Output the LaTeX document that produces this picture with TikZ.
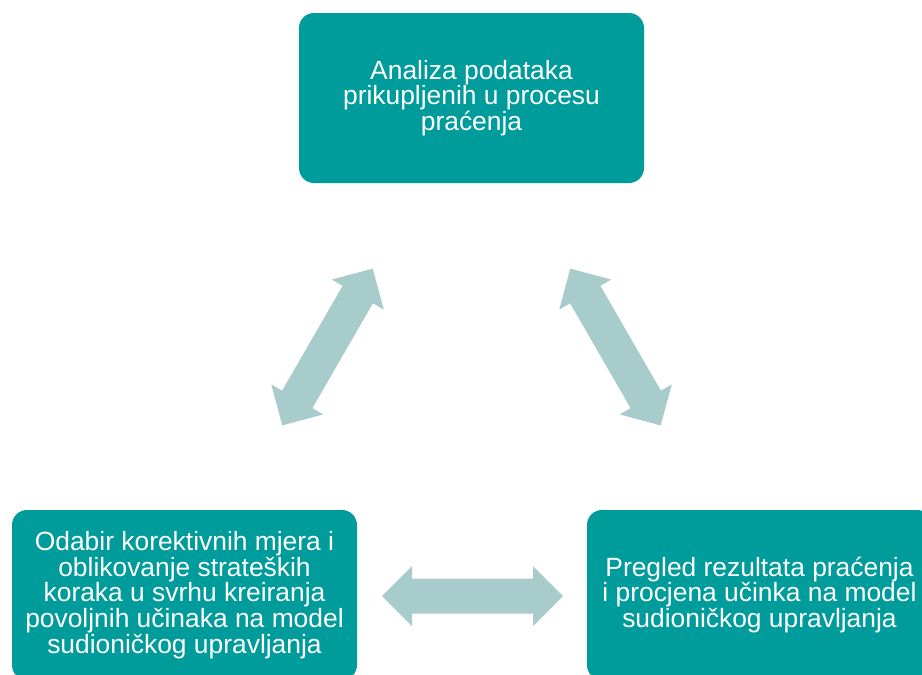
\documentclass[tikz,border=0pt]{standalone}
\usepackage{fontspec}
\setmainfont{Liberation Sans}
\usetikzlibrary{calc}
\definecolor{boxteal}{RGB}{0,155,155}
\definecolor{arrowgray}{RGB}{168,203,204}
\tikzset{
  stagebox/.style={fill=boxteal, rounded corners=15pt, minimum width=345pt,
    minimum height=170pt, inner sep=0pt, text=white, align=center,
    font=\fontsize{26.4}{23.6}\selectfont},
  blockarrow/.style={fill=arrowgray}
}
% double block arrow between two named coordinates
\newcommand\dblblockarrow[2]{%
  \path ($(#1)!30pt!(#2)$) coordinate (#1h);
  \path ($(#2)!30pt!(#1)$) coordinate (#2h);
  \fill[blockarrow] (#1)
    -- ($(#1h)!30pt!90:(#1)$) -- ($(#1h)!17.5pt!90:(#1)$)
    -- ($(#2h)!17.5pt!-90:(#2)$) -- ($(#2h)!30pt!-90:(#2)$)
    -- (#2)
    -- ($(#2h)!30pt!90:(#2)$) -- ($(#2h)!17.5pt!90:(#2)$)
    -- ($(#1h)!17.5pt!-90:(#1)$) -- ($(#1h)!30pt!-90:(#1)$)
    -- cycle;}
\begin{document}
\begin{tikzpicture}[x=1pt,y=-1pt]
\useasboundingbox (0,0) rectangle (922,675);
\clip (0,0) rectangle (922,675);
\node[stagebox] (top) at (471.5,98) {Analiza podataka\\prikupljenih u procesu\\praćenja};
\node[stagebox] (left) at (184.5,595) {Odabir korektivnih mjera i\\oblikovanje strateških\\koraka u svrhu kreiranja\\povoljnih učinaka na model\\sudioničkog upravljanja};
\node[stagebox] (right) at (759.5,595) {Pregled rezultata praćenja\\i procjena učinka na model\\sudioničkog upravljanja};
\coordinate (la) at (372.75,268.6);
\coordinate (lb) at (282.25,425.4);
\coordinate (ra) at (570.25,268.6);
\coordinate (rb) at (660.75,425.4);
\coordinate (ha) at (382,596);
\coordinate (hb) at (563,596);
\dblblockarrow{la}{lb}
\dblblockarrow{ra}{rb}
\dblblockarrow{ha}{hb}
\end{tikzpicture}
\end{document}
